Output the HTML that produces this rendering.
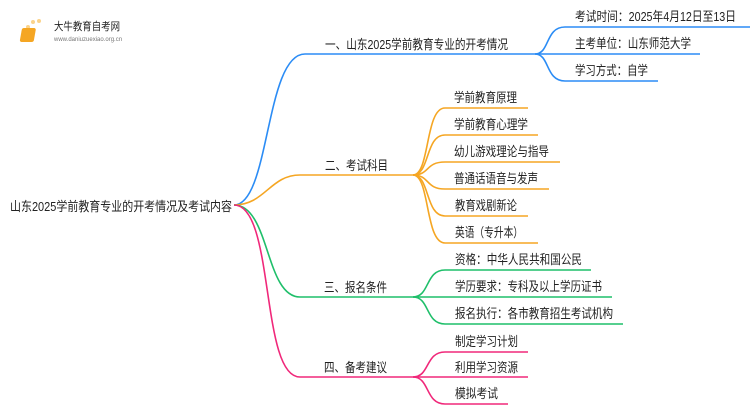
<!DOCTYPE html>
<html><head><meta charset="utf-8"><style>
body{margin:0;width:750px;height:410px;background:#fff;overflow:hidden;font-family:"Liberation Sans","Noto Sans CJK SC",sans-serif;}
svg text{font-family:"Liberation Sans","Noto Sans CJK SC",sans-serif;font-size:13px;fill:#222;}
</style></head><body>
<svg width="750" height="410" xmlns="http://www.w3.org/2000/svg">
<g fill="none" stroke-width="1.6">
<g stroke="#2b8cf5">
<path d="M234 205 C 270 205, 265 54, 305 54 L535 54"/>
<path d="M535 54 C 550 54, 545 27, 565 27 L750 27"/>
<path d="M535 54 L700 54"/>
<path d="M535 54 C 550 54, 545 81, 565 81 L658 81"/>
</g>
<g stroke="#f5a623">
<path d="M234 205 C 265 205, 270 175, 300 175 L413 175"/>
<path d="M413 175 C 430 175, 425 108, 445 108 L528 108"/>
<path d="M413 175 C 430 175, 425 135, 445 135 L538 135"/>
<path d="M413 175 C 430 175, 425 162, 445 162 L560 162"/>
<path d="M413 175 C 430 175, 425 189, 445 189 L549 189"/>
<path d="M413 175 C 430 175, 425 216, 445 216 L528 216"/>
<path d="M413 175 C 430 175, 425 243, 445 243 L538 243"/>
</g>
<g stroke="#1fbf6a">
<path d="M234 205 C 270 205, 265 297, 300 297 L413 297"/>
<path d="M413 297 C 430 297, 425 270, 445 270 L591 270"/>
<path d="M413 297 L612 297"/>
<path d="M413 297 C 430 297, 425 324, 445 324 L623 324"/>
</g>
<g stroke="#f0287a">
<path d="M234 205 C 275 205, 260 377, 300 377 L413 377"/>
<path d="M413 377 C 430 377, 425 352, 445 352 L528 352"/>
<path d="M413 377 L528 377"/>
<path d="M413 377 C 430 377, 425 404, 445 404 L508 404"/>
</g>
</g>
<circle cx="28" cy="27" r="2" fill="#fbd38a"/><circle cx="33" cy="22" r="2" fill="#fbd38a"/><circle cx="39" cy="21" r="2" fill="#fbd38a"/><circle cx="24" cy="33" r="2" fill="#fbd38a"/>
<rect x="27" y="28" width="14" height="14" rx="2" fill="#f5a623" transform="skewX(-10)"/>
<text x="54" y="30" style="font-size:11px" textLength="66" lengthAdjust="spacingAndGlyphs">大牛教育自考网</text>
<text x="54" y="41" style="font-size:6px;fill:#777">www.daniuzuexiao.org.cn</text>

<g lengthAdjust="spacingAndGlyphs">
<text x="10" y="211" textLength="222" lengthAdjust="spacingAndGlyphs">山东2025学前教育专业的开考情况及考试内容</text>
<text x="325" y="49" textLength="183" lengthAdjust="spacingAndGlyphs">一、山东2025学前教育专业的开考情况</text>
<text x="575" y="21" textLength="161" lengthAdjust="spacingAndGlyphs">考试时间：2025年4月12日至13日</text>
<text x="575" y="48" textLength="116" lengthAdjust="spacingAndGlyphs">主考单位：山东师范大学</text>
<text x="575" y="75" textLength="73" lengthAdjust="spacingAndGlyphs">学习方式：自学</text>
<text x="325" y="170" textLength="63" lengthAdjust="spacingAndGlyphs">二、考试科目</text>
<text x="454" y="102" textLength="63" lengthAdjust="spacingAndGlyphs">学前教育原理</text>
<text x="454" y="129" textLength="74" lengthAdjust="spacingAndGlyphs">学前教育心理学</text>
<text x="454" y="156" textLength="95" lengthAdjust="spacingAndGlyphs">幼儿游戏理论与指导</text>
<text x="454" y="183" textLength="84" lengthAdjust="spacingAndGlyphs">普通话语音与发声</text>
<text x="455" y="210" textLength="62" lengthAdjust="spacingAndGlyphs">教育戏剧新论</text>
<text x="455" y="237" textLength="68" lengthAdjust="spacingAndGlyphs">英语（专升本）</text>
<text x="324" y="292" textLength="63" lengthAdjust="spacingAndGlyphs">三、报名条件</text>
<text x="455" y="264" textLength="127" lengthAdjust="spacingAndGlyphs">资格：中华人民共和国公民</text>
<text x="455" y="291" textLength="147" lengthAdjust="spacingAndGlyphs">学历要求：专科及以上学历证书</text>
<text x="455" y="318" textLength="158" lengthAdjust="spacingAndGlyphs">报名执行：各市教育招生考试机构</text>
<text x="324" y="372" textLength="63" lengthAdjust="spacingAndGlyphs">四、备考建议</text>
<text x="455" y="346" textLength="63" lengthAdjust="spacingAndGlyphs">制定学习计划</text>
<text x="455" y="372" textLength="63" lengthAdjust="spacingAndGlyphs">利用学习资源</text>
<text x="455" y="398" textLength="43" lengthAdjust="spacingAndGlyphs">模拟考试</text>
</g>
</svg>
</body></html>
